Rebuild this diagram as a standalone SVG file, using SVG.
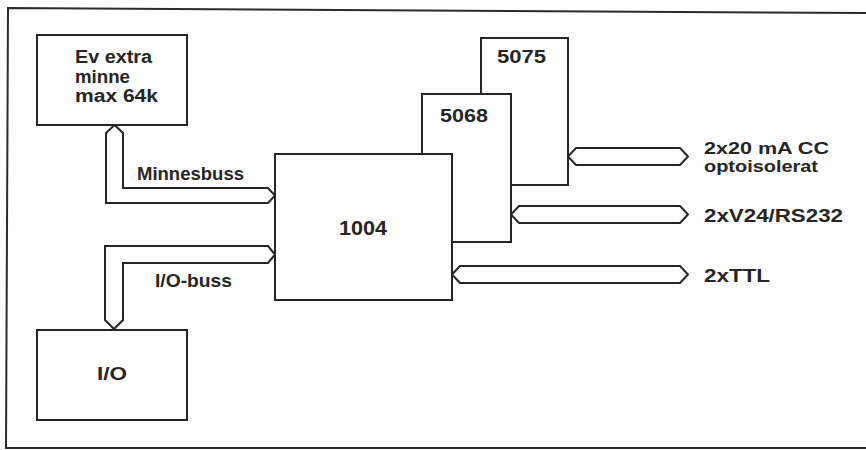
<svg xmlns="http://www.w3.org/2000/svg" width="866" height="450" viewBox="0 0 866 450">
<style>
.bg{fill:#fefefe}
.frame{fill:none;stroke:#2b2b2b;stroke-width:2}
.box{fill:#fefefe;stroke:#262626;stroke-width:2}
.bus{fill:#fefefe;stroke:#262626;stroke-width:2;stroke-linejoin:miter}
.t{font-family:"Liberation Sans",Arial,sans-serif;font-weight:bold;font-size:18px;fill:#262626}
.big{font-size:20px}
.sm{font-size:16px}
</style>
<rect class="bg" x="0" y="0" width="866" height="450"/>
<path class="frame" d="M866,13 L8,8 L6,448 L866,448"/>
<g id="connectors">
<path class="bus" d="M114.5,125 L123,133 L123,188 L268,188 L275,195.5 L268,203 L106,203 L106,133 Z"/>
<path class="bus" d="M275,254.5 L268,246 L105,246 L105,320 L114,329 L123,320 L123,263 L268,263 Z"/>
<path class="bus" d="M568,156.5 L576,148 L680,148 L688,156.5 L680,165 L576,165 Z"/>
<path class="bus" d="M511,214.5 L519,206 L680,206 L688,214.5 L680,223 L519,223 Z"/>
<path class="bus" d="M452,274.5 L460,266 L680,266 L688,274.5 L680,283 L460,283 Z"/>
</g>
<g id="mem">
<rect class="box" x="37" y="35" width="150" height="90"/>
<text class="t" x="75" y="63" textLength="77" lengthAdjust="spacingAndGlyphs">Ev extra</text>
<text class="t" x="75" y="83" textLength="55" lengthAdjust="spacingAndGlyphs">minne</text>
<text class="t" x="75" y="102" textLength="83" lengthAdjust="spacingAndGlyphs">max 64k</text>
</g>
<g id="io">
<rect class="box" x="37" y="330" width="150" height="90"/>
<text class="t" x="97" y="380" textLength="30" lengthAdjust="spacingAndGlyphs">I/O</text>
</g>
<g id="n5075">
<rect class="box" x="481" y="38" width="87" height="147"/>
<text class="t" x="497" y="63" textLength="49" lengthAdjust="spacingAndGlyphs">5075</text>
</g>
<g id="n5068">
<rect class="box" x="422" y="94" width="89" height="148"/>
<text class="t" x="440" y="122" textLength="48" lengthAdjust="spacingAndGlyphs">5068</text>
</g>
<g id="n1004">
<rect class="box" x="275" y="154" width="177" height="146"/>
<text class="t big" x="339" y="235" textLength="48" lengthAdjust="spacingAndGlyphs">1004</text>
</g>
<g id="labels">
<text class="t" x="137" y="180" textLength="107" lengthAdjust="spacingAndGlyphs">Minnesbuss</text>
<text class="t" x="155" y="287" textLength="77" lengthAdjust="spacingAndGlyphs">I/O-buss</text>
<text class="t sm" x="704" y="154" textLength="125" lengthAdjust="spacingAndGlyphs">2x20 mA CC</text>
<text class="t sm" x="704" y="172" textLength="114" lengthAdjust="spacingAndGlyphs">optoisolerat</text>
<text class="t" x="704" y="222" textLength="139" lengthAdjust="spacingAndGlyphs">2xV24/RS232</text>
<text class="t" x="704" y="282" textLength="66" lengthAdjust="spacingAndGlyphs">2xTTL</text>
</g>
</svg>
